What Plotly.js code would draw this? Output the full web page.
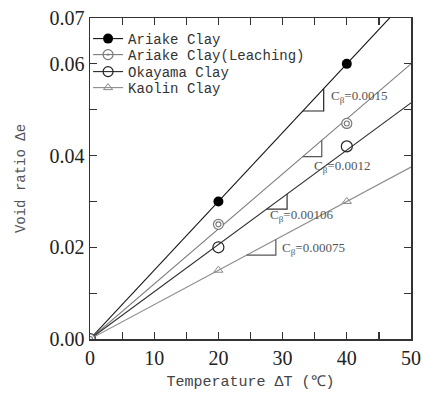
<!DOCTYPE html>
<html>
<head>
<meta charset="utf-8">
<script src="https://cdn.plot.ly/plotly-3.0.1.min.js"></script>
<style>html,body{margin:0;padding:0;background:#fff;}#chart{width:426px;height:394px;}</style>
</head>
<body>
<div id="chart"></div>
<script>
// ---- data ----
var seriesNames = ['Ariake Clay', 'Ariake Clay(Leaching)', 'Okayama Clay', 'Kaolin Clay'];
var tempT = [0, 20, 40];
var ariake = [0, 0.030, 0.060];
var leaching = [0, 0.025, 0.047];
var okayama = [0, 0.020, 0.042];
var kaolin = [0, 0.015, 0.030];
var fitT = [0, 50];
var fitEnd = [0.075, 0.060, 0.0515, 0.0375];
var slopeLabels = ['C<sub>β</sub>=0.0015', 'C<sub>β</sub>=0.0012', 'C<sub>β</sub>=0.00106', 'C<sub>β</sub>=0.00075'];
var xTickVals = [0, 5, 10, 15, 20, 25, 30, 35, 40, 45, 50];
var xTickText = ['0', '', '10', '', '20', '', '30', '', '40', '', '50'];
var yTickVals = [0, 0.01, 0.02, 0.03, 0.04, 0.05, 0.06, 0.07];
var yTickText = ['0.00', '', '0.02', '', '0.04', '', '0.06', '0.07'];

// ---- styles ----
var lineColors = ['#111111', '#7a7a7a', '#2a2a2a', '#8a8a8a'];
var triColors = ['#222222', '#555555', '#333333', '#555555'];
var triRange = [[33.15, 36.4], [33.15, 36.1], [27.5, 30.7], [24.4, 28.95]];
var labelPos = [[37.2, 0.0528], [34.55, 0.0377], [27.7, 0.0270], [29.6, 0.0198]];
var legendY = [0.9346, 0.8847, 0.8318, 0.7819];
var serifFont = 'Liberation Serif, Times New Roman, serif';
var monoFont = 'Liberation Mono, Courier New, monospace';

var traces = [];
// fitted lines
for (var i = 0; i < 4; i++) {
  traces.push({x: fitT, y: [0, fitEnd[i]], mode: 'lines', showlegend: false, hoverinfo: 'skip',
    line: {color: lineColors[i], width: 1.1}});
}
// data points
traces.push({x: tempT, y: ariake, mode: 'markers', showlegend: false,
  marker: {symbol: 'circle', size: 10, color: '#000', line: {width: 0}}});
traces.push({x: tempT, y: kaolin, mode: 'markers', showlegend: false,
  marker: {symbol: 'triangle-up-open', size: 8, color: '#888', line: {width: 1, color: '#888'}}});
traces.push({x: tempT, y: okayama, mode: 'markers', showlegend: false,
  marker: {symbol: 'circle-open', size: 11, color: '#222', line: {width: 1.2, color: '#222'}}});
traces.push({x: tempT, y: leaching, mode: 'markers', showlegend: false,
  marker: {symbol: 'circle', size: 10, color: '#fff', line: {width: 1.2, color: '#777'}}});
traces.push({x: tempT, y: leaching, mode: 'markers', showlegend: false,
  marker: {symbol: 'circle-open', size: 5, color: '#777', line: {width: 1.1, color: '#777'}}});

// legend entries
var legSym = [
  {symbol: 'circle', size: 10, color: '#000', line: {width: 0}},
  {symbol: 'circle-open-dot', size: 10, color: '#777', line: {width: 1.2, color: '#777'}},
  {symbol: 'circle-open', size: 10, color: '#222', line: {width: 1.2, color: '#222'}},
  {symbol: 'triangle-up-open', size: 8, color: '#888', line: {width: 1, color: '#888'}}
];
for (var k = 0; k < 4; k++) {
  traces.push({x: [null], y: [null], mode: 'lines+markers', name: seriesNames[k],
    legend: k === 0 ? 'legend' : 'legend' + (k + 1),
    line: {color: lineColors[k], width: 1.1}, marker: legSym[k]});
}

var shapes = [];
var annotations = [];
for (var j = 0; j < 4; j++) {
  var s = fitEnd[j] / fitT[1];
  var a = triRange[j][0], b = triRange[j][1];
  shapes.push({type: 'path', xref: 'x', yref: 'y',
    path: 'M' + a + ',' + (s * a) + ' L' + b + ',' + (s * a) + ' L' + b + ',' + (s * b),
    line: {color: triColors[j], width: 1.2}});
  annotations.push({x: labelPos[j][0], y: labelPos[j][1], xref: 'x', yref: 'y',
    text: slopeLabels[j], showarrow: false, xanchor: 'left', yanchor: 'middle',
    font: {family: serifFont, size: 13, color: '#555'}});
}

function leg(y) {
  return {x: -0.006, xanchor: 'left', y: y, yanchor: 'middle', bgcolor: 'rgba(0,0,0,0)',
    borderwidth: 0, itemwidth: 30, font: {family: monoFont, size: 14, color: '#333'}};
}

var axisBase = {
  showgrid: false, zeroline: false, showline: true, linecolor: '#333', linewidth: 1.5,
  mirror: 'ticks', ticks: 'inside', ticklen: 7, tickwidth: 1.2, tickcolor: '#333',
  tickfont: {family: serifFont, size: 20, color: '#222'}, tickmode: 'array'
};

var layout = {
  width: 426, height: 394,
  margin: {l: 90, r: 15, t: 18, b: 55, pad: 0},
  paper_bgcolor: '#fff', plot_bgcolor: '#fff',
  showlegend: true,
  legend: leg(legendY[0]), legend2: leg(legendY[1]), legend3: leg(legendY[2]), legend4: leg(legendY[3]),
  xaxis: Object.assign({}, axisBase, {range: [0, 50], tickvals: xTickVals, ticktext: xTickText,
    title: {text: 'Temperature ΔT (℃)', font: {family: monoFont, size: 15, color: '#444'}, standoff: 8}}),
  yaxis: Object.assign({}, axisBase, {range: [0, 0.07], tickvals: yTickVals, ticktext: yTickText,
    title: {text: 'Void ratio Δe', font: {family: monoFont, size: 14, color: '#555'}, standoff: 20}}),
  shapes: shapes,
  annotations: annotations
};

Plotly.newPlot('chart', traces, layout, {staticPlot: true, displayModeBar: false});
</script>
</body>
</html>
